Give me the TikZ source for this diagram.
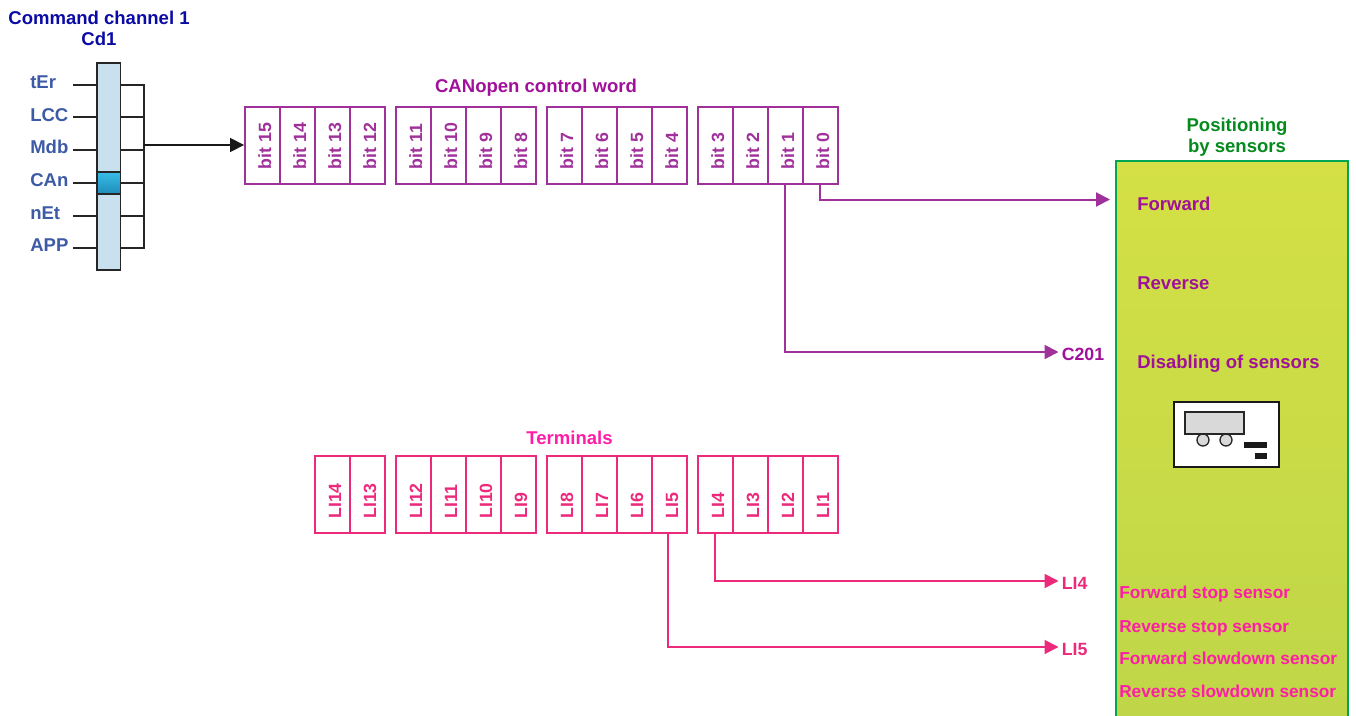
\documentclass[tikz,border=0pt]{standalone}
\usepackage{fontspec}
\setmainfont{Liberation Sans}
\usetikzlibrary{arrows.meta}
\definecolor{cmdblue}{HTML}{0A0AA5}
\definecolor{srcblue}{HTML}{3D5AA6}
\definecolor{colfill}{HTML}{C9E0EE}
\definecolor{wordviolet}{HTML}{A0309A}
\definecolor{wordtext}{HTML}{A0109A}
\definecolor{termred}{HTML}{EC2A7C}
\definecolor{termpink}{HTML}{FF1DA8}
\definecolor{posgreen}{HTML}{058A1E}
\tikzset{
    bold13/.style={font=\fontsize{13.3pt}{15.75pt}\selectfont\bfseries},
    bold14/.style={font=\fontsize{13.9pt}{15.75pt}\selectfont\bfseries},
    cell/.style={draw,line width=1.4pt,rotate=90,minimum width=57.75pt,minimum height=26.25pt,
        inner xsep=0pt,inner ysep=0pt,text width=57.75pt,align=left,text height=13pt,text depth=0pt,
        bold13,execute at begin node={\hspace*{10.7pt}}},
    bitcell/.style={cell,color=wordviolet},
    licell/.style={cell,color=termred},
    src/.style={bold14,text=srcblue,anchor=west,inner sep=0pt},
    sensor/.style={font=\fontsize{12.95pt}{15.75pt}\selectfont\bfseries,text=termpink,anchor=west,inner sep=0pt},
    cmdtext/.style={bold14,text=wordtext,anchor=west,inner sep=0pt},
    endlabel/.style={bold13,anchor=west,inner sep=2.25pt,text height=12.5pt,text depth=0pt},
    stub/.style={draw=black!85,line width=1.2pt},
    colbox/.style={draw=black!85,line width=1.2pt,minimum width=17.6pt,inner sep=0pt},
    wordline/.style={wordviolet,line width=1.5pt,-{Triangle[length=10.5pt,width=10.5pt]}},
    termline/.style={termred,line width=1.5pt,-{Triangle[length=10.5pt,width=10.5pt]}},
}
\begin{document}
\begin{tikzpicture}[x=0.75pt,y=-0.75pt]
            \useasboundingbox (0,0) rectangle (1356,715);
            \node[bold14,text=cmdblue,align=center,inner sep=0pt] (Title) at (99,28.5) {Command channel 1\\Cd1};
            \node[src] (tEr) at (30,82) {tEr};
            \node[src] (LCC) at (30,115) {LCC};
            \node[src] (Mdb) at (30,147) {Mdb};
            \node[src] (CAn) at (30,180) {CAn};
            \node[src] (nEt) at (30,213) {nEt};
            \node[src] (APP) at (30,245) {APP};
            \node[colbox,fill=colfill,minimum height=155pt] (Col) at (108.75,166.5) {};
            \node[colbox,top color={rgb,255:red,56;green,189;blue,232},bottom color={rgb,255:red,30;green,140;blue,184},minimum height=16.5pt] (Sel) at (108.75,183) {};
            \coordinate (In1) at (73,85);
            \coordinate (In2) at (73,117);
            \coordinate (In3) at (73,150);
            \coordinate (In4) at (73,183);
            \coordinate (In5) at (73,216);
            \coordinate (In6) at (73,248);
            \coordinate (Bus1) at (144,85);
            \coordinate (Bus2) at (144,117);
            \coordinate (Bus3) at (144,150);
            \coordinate (Bus4) at (144,183);
            \coordinate (Bus5) at (144,216);
            \coordinate (Bus6) at (144,248);
            \coordinate (BusOut) at (144,145);
            \draw[stub] (In1) -- (In1 -| Col.west);
            \draw[stub] (In2) -- (In2 -| Col.west);
            \draw[stub] (In3) -- (In3 -| Col.west);
            \draw[stub] (In4) -- (In4 -| Col.west);
            \draw[stub] (In5) -- (In5 -| Col.west);
            \draw[stub] (In6) -- (In6 -| Col.west);
            \draw[stub] (Bus1 -| Col.east) -- (Bus1) -- (Bus6) -- (Bus6 -| Col.east);
            \draw[stub] (Bus2 -| Col.east) -- (Bus2);
            \draw[stub] (Bus3 -| Col.east) -- (Bus3);
            \draw[stub] (Bus4 -| Col.east) -- (Bus4);
            \draw[stub] (Bus5 -| Col.east) -- (Bus5);
            \node[bold14,text=wordtext,inner sep=0pt] (Word) at (536,88) {CANopen control word};
            \node[bitcell] (B15) at (262.5,145.5) {bit 15};
            \node[bitcell] (B14) at (297.5,145.5) {bit 14};
            \node[bitcell] (B13) at (332.5,145.5) {bit 13};
            \node[bitcell] (B12) at (367.5,145.5) {bit 12};
            \node[bitcell] (B11) at (413.5,145.5) {bit 11};
            \node[bitcell] (B10) at (448.5,145.5) {bit 10};
            \node[bitcell] (B9) at (483.5,145.5) {bit 9};
            \node[bitcell] (B8) at (518.5,145.5) {bit 8};
            \node[bitcell] (B7) at (564.5,145.5) {bit 7};
            \node[bitcell] (B6) at (599.5,145.5) {bit 6};
            \node[bitcell] (B5) at (634.5,145.5) {bit 5};
            \node[bitcell] (B4) at (669.5,145.5) {bit 4};
            \node[bitcell] (B3) at (715.5,145.5) {bit 3};
            \node[bitcell] (B2) at (750.5,145.5) {bit 2};
            \node[bitcell] (B1) at (785.5,145.5) {bit 1};
            \node[bitcell] (B0) at (820.5,145.5) {bit 0};
            \draw[black!90,line width=1.2pt,-{Triangle[length=10.5pt,width=10.5pt]}] (BusOut) -- (B15.north |- BusOut);
            \node[bold14,text=termpink,inner sep=0pt] (Term) at (569.5,438) {Terminals};
            \node[licell] (L14) at (332.5,494.5) {LI14};
            \node[licell] (L13) at (367.5,494.5) {LI13};
            \node[licell] (L12) at (413.5,494.5) {LI12};
            \node[licell] (L11) at (448.5,494.5) {LI11};
            \node[licell] (L10) at (483.5,494.5) {LI10};
            \node[licell] (L9) at (518.5,494.5) {LI9};
            \node[licell] (L8) at (564.5,494.5) {LI8};
            \node[licell] (L7) at (599.5,494.5) {LI7};
            \node[licell] (L6) at (634.5,494.5) {LI6};
            \node[licell] (L5) at (669.5,494.5) {LI5};
            \node[licell] (L4) at (715.5,494.5) {LI4};
            \node[licell] (L3) at (750.5,494.5) {LI3};
            \node[licell] (L2) at (785.5,494.5) {LI2};
            \node[licell] (L1) at (820.5,494.5) {LI1};
            \node[bold14,text=posgreen,align=center,inner sep=0pt] (PosT) at (1237,137.5) {Positioning\\by sensors};
            \node[draw={rgb,255:red,0;green,166;blue,81},line width=1.4pt,top color={rgb,255:red,212;green,224;blue,69},bottom color={rgb,255:red,191;green,214;blue,72},minimum width=174pt,minimum height=423pt,inner sep=0pt] (Panel) at (1232,443) {};
            \node[cmdtext] (Fwd) at (1137,204) {Forward};
            \node[cmdtext] (Rev) at (1137,283) {Reverse};
            \node[cmdtext] (Dis) at (1137,364) {Disabling of sensors};
            \node[sensor] (S1) at (1119,594) {Forward stop sensor};
            \node[sensor] (S2) at (1119,628) {Reverse stop sensor};
            \node[sensor] (S3) at (1119,658) {Forward slowdown sensor};
            \node[sensor] (S4) at (1119,691) {Reverse slowdown sensor};
            \draw[black!90,line width=1.2pt,fill=white] (1174,402) rectangle (1279,467);
            \draw[black!85,line width=1pt,fill=black!15] (1203,440) circle (4.5pt);
            \draw[black!85,line width=1pt,fill=black!15] (1226,440) circle (4.5pt);
            \draw[black!85,line width=1pt,fill=black!15] (1185,412) rectangle (1244,434);
            \fill[black!90] (1244,442) rectangle (1267,448);
            \fill[black!90] (1255,453) rectangle (1267,459);
            \coordinate (FwdIn) at (1110,199.5);
            \node[endlabel,text=wordtext] (C201) at (1058.5,352) {C201};
            \node[endlabel,text=termred] (LI4) at (1058.5,581) {LI4};
            \node[endlabel,text=termred] (LI5) at (1058.5,647) {LI5};
            \draw[wordline] ([xshift=-0.75pt]B0.west) |- (FwdIn);
            \draw[wordline] ([xshift=-0.4pt]B1.west) |- (C201.west);
            \draw[termline] ([xshift=-0.4pt]L4.west) |- (LI4.west);
            \draw[termline] ([xshift=-1pt]L5.west) |- (LI5.west);
        \end{tikzpicture}
\end{document}
